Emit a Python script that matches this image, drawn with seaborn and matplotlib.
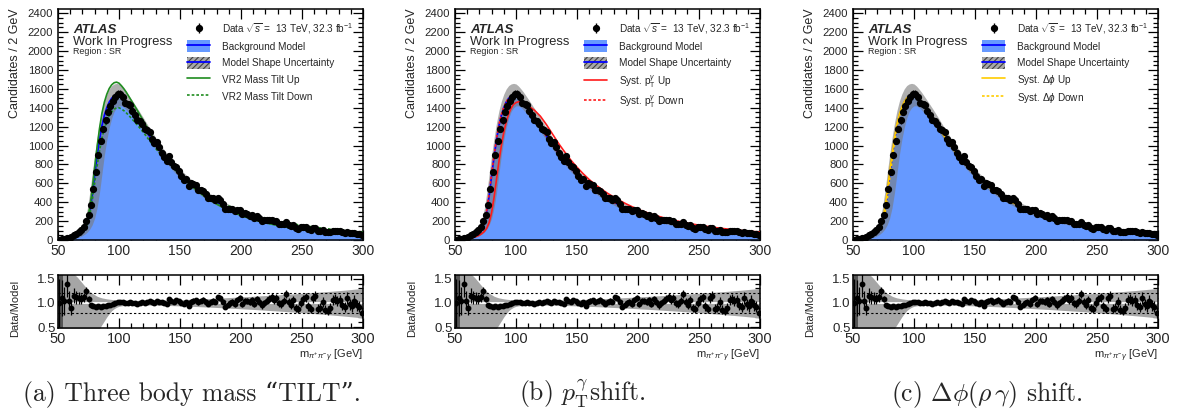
import numpy as np
import matplotlib
matplotlib.use("Agg")
import matplotlib.pyplot as plt
from matplotlib.lines import Line2D
from matplotlib.patches import Patch, Rectangle
from matplotlib.legend_handler import HandlerPatch
from matplotlib.ticker import MultipleLocator, FormatStrFormatter
import seaborn as sns

# ---- data ----
# 2 GeV bins, centres 51 ... 299
bin_x = np.arange(51, 300, 2)

data_counts = np.array([
    4, 9, 13, 25, 26, 32, 53, 66, 83, 103,
    138, 204, 265, 366, 535, 718, 902, 1044, 1176, 1265,
    1359, 1421, 1468, 1515, 1548, 1550, 1513, 1455, 1438, 1431,
    1367, 1318, 1269, 1257, 1231, 1180, 1163, 1144, 1073, 1024,
    1036, 980, 924, 883, 834, 886, 830, 783, 777, 734,
    680, 635, 643, 572, 604, 593, 578, 530, 527, 523,
    486, 447, 449, 446, 422, 442, 419, 379, 327, 329,
    331, 330, 303, 317, 318, 272, 285, 272, 259, 261,
    233, 249, 231, 206, 210, 214, 216, 215, 197, 199,
    173, 167, 173, 189, 158, 143, 155, 128, 121, 134,
    140, 142, 114, 104, 128, 129, 97, 96, 106, 87,
    83, 86, 99, 98, 92, 91, 80, 75, 87, 75,
    70, 76, 67, 63, 54])

data_ratio = np.array([
    1.0, 1.1, 1.05, 1.4, 1.05, 0.9, 1.15, 1.12, 1.1, 1.08,
    1.12, 1.25, 1.08, 0.95, 0.93, 0.92, 0.93, 0.92, 0.93, 0.93,
    0.95, 0.96, 0.97, 0.99, 1.01, 1.02, 1.01, 0.99, 1.0, 1.02,
    1.0, 0.99, 0.98, 1.0, 1.01, 1.0, 1.02, 1.04, 1.01, 1.0,
    1.05, 1.03, 1.01, 1.0, 0.98, 1.08, 1.05, 1.03, 1.06, 1.04,
    1.0, 0.97, 1.02, 0.94, 1.03, 1.05, 1.06, 1.01, 1.04, 1.07,
    1.03, 0.98, 1.02, 1.05, 1.03, 1.12, 1.1, 1.03, 0.92, 0.96,
    1.0, 1.03, 0.98, 1.06, 1.1, 0.97, 1.05, 1.04, 1.02, 1.06,
    0.98, 1.08, 1.03, 0.95, 1.0, 1.05, 1.09, 1.12, 1.06, 1.1,
    0.99, 0.98, 1.05, 1.18, 1.02, 0.95, 1.06, 0.9, 0.88, 1.0,
    1.08, 1.12, 0.93, 0.87, 1.1, 1.14, 0.88, 0.9, 1.02, 0.86,
    0.84, 0.9, 1.06, 1.08, 1.04, 1.06, 0.95, 0.92, 1.1, 0.97,
    0.93, 1.04, 0.95, 0.92, 0.8])

# curves sampled at these masses
curve_x = np.array(list(range(50, 111, 2)) + list(range(115, 301, 5)))

model_curve = [
    3, 6, 10, 15, 21, 30, 40, 52, 66, 84,
    108, 140, 190, 300, 470, 680, 880, 1060, 1210, 1320,
    1400, 1460, 1500, 1525, 1535, 1530, 1510, 1485, 1455, 1420,
    1385, 1295, 1200, 1100, 1005, 915, 835, 760, 692, 630,
    575, 525, 480, 440, 402, 368, 337, 309, 284, 262,
    242, 224, 207, 192, 178, 165, 153, 142, 132, 123,
    115, 107, 100, 93, 87, 81, 75, 70, 65]

band_hi = [
    5, 10, 16, 23, 32, 44, 58, 74, 94, 120,
    160, 220, 330, 500, 700, 900, 1080, 1240, 1370, 1470,
    1545, 1600, 1635, 1652, 1658, 1652, 1630, 1600, 1567, 1530,
    1492, 1395, 1293, 1186, 1085, 989, 904, 825, 753, 688,
    630, 577, 530, 487, 447, 411, 378, 348, 321, 297,
    276, 257, 239, 223, 208, 194, 181, 170, 159, 149,
    140, 132, 124, 117, 110, 104, 97, 92, 87]

band_lo = [
    0, 1, 2, 4, 6, 9, 13, 18, 25, 34,
    46, 62, 84, 115, 160, 230, 340, 500, 700, 900,
    1060, 1190, 1290, 1360, 1400, 1420, 1420, 1405, 1380, 1350,
    1318, 1235, 1148, 1055, 963, 876, 797, 723, 656, 595,
    541, 492, 447, 407, 370, 336, 305, 278, 253, 231,
    212, 195, 179, 164, 151, 138, 127, 116, 107, 98,
    90, 83, 76, 70, 64, 58, 53, 48, 44]

tilt_up = [
    4, 7, 12, 17, 24, 35, 46, 60, 75, 96,
    123, 159, 215, 338, 528, 761, 982, 1179, 1342, 1459,
    1543, 1604, 1643, 1665, 1671, 1660, 1633, 1601, 1564, 1521,
    1479, 1372, 1261, 1147, 1039, 938, 849, 766, 692, 625,
    565, 512, 464, 421, 381, 346, 314, 285, 260, 238,
    217, 199, 182, 168, 154, 141, 130, 119, 110, 101,
    93, 86, 80, 73, 68, 62, 57, 53, 48]

tilt_down = [
    2, 5, 8, 13, 18, 25, 34, 44, 57, 72,
    93, 121, 166, 262, 413, 599, 778, 941, 1078, 1181,
    1257, 1316, 1357, 1385, 1400, 1400, 1387, 1369, 1346, 1319,
    1291, 1218, 1139, 1053, 971, 892, 821, 754, 692, 635,
    585, 538, 496, 459, 423, 390, 360, 333, 308, 286,
    267, 249, 232, 216, 202, 189, 176, 165, 154, 145,
    137, 128, 120, 113, 106, 100, 93, 87, 82]

pt_up = [
    1, 2, 4, 6, 9, 13, 18, 24, 31, 40,
    52, 68, 90, 125, 185, 290, 450, 640, 830, 1000,
    1140, 1250, 1335, 1395, 1435, 1455, 1463, 1462, 1455, 1440,
    1420, 1375, 1310, 1220, 1120, 1020, 930, 845, 770, 702,
    640, 587, 539, 495, 455, 418, 384, 353, 325, 300,
    278, 258, 239, 222, 207, 193, 180, 168, 157, 147,
    138, 129, 121, 114, 107, 100, 94, 89, 84]

pt_down = [
    3, 6, 10, 15, 21, 30, 41, 53, 67, 86,
    111, 145, 200, 315, 490, 700, 895, 1072, 1220, 1327,
    1405, 1463, 1502, 1526, 1535, 1529, 1508, 1483, 1453, 1418,
    1383, 1293, 1198, 1098, 1003, 913, 833, 758, 690, 628,
    573, 523, 478, 438, 400, 366, 335, 307, 282, 260,
    240, 222, 205, 190, 176, 163, 151, 140, 130, 121,
    113, 105, 98, 91, 85, 79, 73, 68, 63]

dphi_up = [
    3, 6, 10, 15, 22, 31, 42, 54, 69, 88,
    114, 150, 210, 330, 510, 720, 910, 1085, 1228, 1333,
    1408, 1465, 1502, 1525, 1532, 1525, 1504, 1478, 1448, 1413,
    1378, 1288, 1193, 1094, 1000, 911, 831, 757, 689, 627,
    572, 522, 477, 437, 400, 366, 335, 307, 282, 260,
    240, 222, 205, 190, 176, 163, 151, 140, 130, 121,
    113, 105, 98, 91, 85, 79, 73, 68, 63]

dphi_down = [
    3, 6, 9, 14, 20, 29, 38, 50, 63, 80,
    102, 130, 172, 265, 430, 640, 845, 1030, 1190, 1305,
    1390, 1452, 1495, 1522, 1535, 1533, 1515, 1491, 1462, 1427,
    1392, 1302, 1207, 1106, 1010, 919, 839, 763, 695, 633,
    578, 528, 483, 443, 404, 370, 339, 311, 286, 264,
    244, 226, 209, 194, 180, 167, 155, 144, 134, 125,
    117, 109, 102, 95, 89, 83, 77, 72, 67]

ratio_band_hi = [
    1.70, 1.70, 1.70, 1.70, 1.68, 1.65, 1.62, 1.58, 1.53, 1.47,
    1.41, 1.35, 1.29, 1.24, 1.20, 1.17, 1.14, 1.12, 1.105, 1.095,
    1.085, 1.078, 1.072, 1.068, 1.065, 1.062, 1.060, 1.058, 1.056, 1.055,
    1.054, 1.053, 1.053, 1.054, 1.056, 1.058, 1.061, 1.064, 1.068, 1.072,
    1.077, 1.082, 1.087, 1.093, 1.099, 1.105, 1.111, 1.118, 1.125, 1.132,
    1.139, 1.146, 1.153, 1.160, 1.168, 1.176, 1.184, 1.192, 1.200, 1.208,
    1.217, 1.226, 1.235, 1.245, 1.255, 1.266, 1.278, 1.290, 1.305]

ratio_band_lo = [
    0, 0, 0, 0, 0, 0, 0, 0, 0, 0,
    0, 0, 0, 0, 0, 0.30, 0.40, 0.47, 0.55, 0.63,
    0.71, 0.78, 0.84, 0.88, 0.91, 0.93, 0.94, 0.945, 0.95, 0.952,
    0.954, 0.956, 0.956, 0.955, 0.953, 0.95, 0.947, 0.943, 0.939, 0.934,
    0.929, 0.924, 0.918, 0.912, 0.906, 0.90, 0.893, 0.886, 0.879, 0.872,
    0.865, 0.857, 0.849, 0.841, 0.833, 0.825, 0.816, 0.807, 0.798, 0.789,
    0.779, 0.769, 0.759, 0.748, 0.737, 0.726, 0.714, 0.702, 0.69]

panels = [
    dict(left=58, up=tilt_up, down=tilt_down, color="#1f8c1f",
         up_lab="VR2 Mass Tilt Up", down_lab="VR2 Mass Tilt Down",
         cap=u"(a) Three body mass \u201cTILT\u201d.", cap_x=23),
    dict(left=455, up=pt_up, down=pt_down, color="#ff1a1a",
         up_lab=r"Syst. p$_{\mathrm{T}}^{\gamma}$ Up",
         down_lab=r"Syst. p$_{\mathrm{T}}^{\gamma}$ Down",
         cap=r"(b) $p_{\mathrm{T}}^{\gamma}$shift.", cap_x=519),
    dict(left=853, up=dphi_up, down=dphi_down, color="#ffcc00",
         up_lab=r"Syst. $\Delta\phi$ Up", down_lab=r"Syst. $\Delta\phi$ Down",
         cap=r"(c) $\Delta\phi(\rho\,\gamma)$ shift.", cap_x=891),
]

sns.set_theme(style="ticks")
plt.rcParams["font.family"] = ["Liberation Sans", "DejaVu Sans"]
plt.rcParams["mathtext.fontset"] = "custom"
plt.rcParams["mathtext.rm"] = "Liberation Sans"
plt.rcParams["mathtext.it"] = "Liberation Sans:italic"
plt.rcParams["mathtext.bf"] = "Liberation Sans:bold"
plt.rcParams["hatch.linewidth"] = 0.8

W, H = 1181, 419
fig = plt.figure(figsize=(W / 100, H / 100), dpi=100)
fig.patch.set_facecolor("white")

blue_fill = "#6699ff"
blue_line = "#0000ff"
dots = (0, (1.6, 1.2))
LEG_FS = 7.2


def box_patch(legend, orig_handle, xdescent, ydescent, width, height, fontsize):
    # legend box shorter than the row so every row keeps the same pitch
    h = 1.2 * LEG_FS
    return Rectangle((-xdescent, -ydescent + (height - h) / 2), width, h)


def style_axes(ax):
    for s in ax.spines.values():
        s.set_linewidth(1.1)
        s.set_color("black")
    ax.tick_params(which="both", direction="in", top=True, right=True,
                   color="black", width=0.9)
    ax.set_facecolor("white")


for p in panels:
    L = p["left"]
    ax = fig.add_axes([L / W, 179 / H, 305 / W, 230.5 / H])
    axr = fig.add_axes([L / W, 91 / H, 305 / W, 53 / H])

    # ---- main panel ----
    ax.fill_between(curve_x, 0, model_curve, color=blue_fill, lw=0, zorder=1)
    ax.fill_between(curve_x, band_lo, band_hi, color="#7a7a7a", alpha=0.6,
                    lw=0, zorder=2)
    sns.lineplot(x=curve_x, y=model_curve, ax=ax, color=blue_line, lw=1.3,
                 errorbar=None, legend=False, zorder=3)
    sns.lineplot(x=curve_x, y=p["up"], ax=ax, color=p["color"], lw=1.2,
                 errorbar=None, legend=False, zorder=4)
    sns.lineplot(x=curve_x, y=p["down"], ax=ax, color=p["color"], lw=1.2,
                 linestyle=dots, errorbar=None, legend=False, zorder=4)
    data_h = ax.errorbar(bin_x, data_counts, yerr=np.sqrt(data_counts),
                         fmt="o", color="black", ms=4.2, elinewidth=1.0,
                         capsize=0, zorder=6)

    ax.set_xlim(50, 300)
    ax.set_ylim(0, 2440)
    ax.xaxis.set_major_locator(MultipleLocator(50))
    ax.xaxis.set_minor_locator(MultipleLocator(10))
    ax.yaxis.set_major_locator(MultipleLocator(200))
    ax.yaxis.set_minor_locator(MultipleLocator(50))
    style_axes(ax)
    ax.tick_params(which="major", length=7)
    ax.tick_params(which="minor", length=3.5)
    ax.tick_params(axis="x", labelsize=10, pad=2.8)
    ax.tick_params(axis="y", labelsize=8.2, pad=3.5)
    ax.set_xlabel("")
    ax.set_ylabel("")

    ax.text(0.049, 0.911, "ATLAS", transform=ax.transAxes, fontsize=9.5,
            fontweight="bold", fontstyle="italic", va="center")
    ax.text(0.049, 0.859, "Work In Progress", transform=ax.transAxes,
            fontsize=9.3, va="center")
    ax.text(0.049, 0.818, "Region : SR", transform=ax.transAxes,
            fontsize=6.4, va="center")

    handles = [
        data_h,
        (Patch(facecolor=blue_fill, lw=0), Line2D([], [], color=blue_line, lw=1.3)),
        (Patch(facecolor="#a8a8a8", edgecolor="#404040", hatch="//////", lw=0),
         Line2D([], [], color=blue_line, lw=1.3)),
        Line2D([], [], color=p["color"], lw=1.2),
        Line2D([], [], color=p["color"], lw=1.2, linestyle=dots),
    ]
    labels = [r"Data $\sqrt{s}$ =  13 TeV, 32.3 fb$^{-1}$", "Background Model",
              "Model Shape Uncertainty", p["up_lab"], p["down_lab"]]
    ax.legend(handles, labels, loc="upper left", bbox_to_anchor=(0.423, 0.9475),
              frameon=False, fontsize=LEG_FS, handlelength=2.3,
              handleheight=1.675, handletextpad=1.2, labelspacing=0.34,
              borderpad=0, borderaxespad=0,
              handler_map={Patch: HandlerPatch(patch_func=box_patch)})

    # ---- ratio panel ----
    axr.fill_between(curve_x, ratio_band_lo, ratio_band_hi, color="#a6a6a6",
                     lw=0, zorder=1)
    axr.axvspan(bin_x[0] - 1, bin_x[1] + 1, color="#555555", lw=0, zorder=1.5)
    axr.axhline(1.0, color="white", lw=1.3, zorder=2)
    axr.axhline(1.2, color="black", lw=0.8, linestyle=(0, (2, 2)), zorder=3)
    axr.axhline(0.8, color="black", lw=0.8, linestyle=(0, (2, 2)), zorder=3)
    axr.errorbar(bin_x, data_ratio, yerr=data_ratio / np.sqrt(data_counts),
                 fmt="o", color="black", ms=3.2, elinewidth=0.9, capsize=0,
                 zorder=6)
    axr.set_xlim(50, 300)
    axr.set_ylim(0.48, 1.58)
    axr.xaxis.set_major_locator(MultipleLocator(50))
    axr.xaxis.set_minor_locator(MultipleLocator(10))
    axr.yaxis.set_major_locator(MultipleLocator(0.5))
    axr.yaxis.set_minor_locator(MultipleLocator(0.1))
    axr.yaxis.set_major_formatter(FormatStrFormatter("%.1f"))
    style_axes(axr)
    axr.tick_params(which="major", length=7)
    axr.tick_params(which="minor", length=3.5)
    axr.tick_params(axis="x", labelsize=10.5, pad=2.8)
    axr.tick_params(axis="y", labelsize=9.5, pad=1.5)
    axr.text(1.0, -0.52, r"m$_{\pi^{+}\pi^{-}\gamma}$ [GeV]",
             transform=axr.transAxes, ha="right", va="center", fontsize=8)

    fig.text((L - 43) / W, (H - 63) / H, "Candidates / 2 GeV", rotation=90,
             ha="center", va="center", fontsize=9)
    fig.text((L - 43) / W, (H - 308) / H, "Data/Model", rotation=90,
             ha="center", va="center", fontsize=8)

    fig.text(p["cap_x"] / W, (H - 394) / H, p["cap"],
             family=["cmr10", "DejaVu Serif"], math_fontfamily="cm",
             fontsize=18.5, ha="left", va="center")

fig.savefig("out.png", dpi=100, facecolor="white")
